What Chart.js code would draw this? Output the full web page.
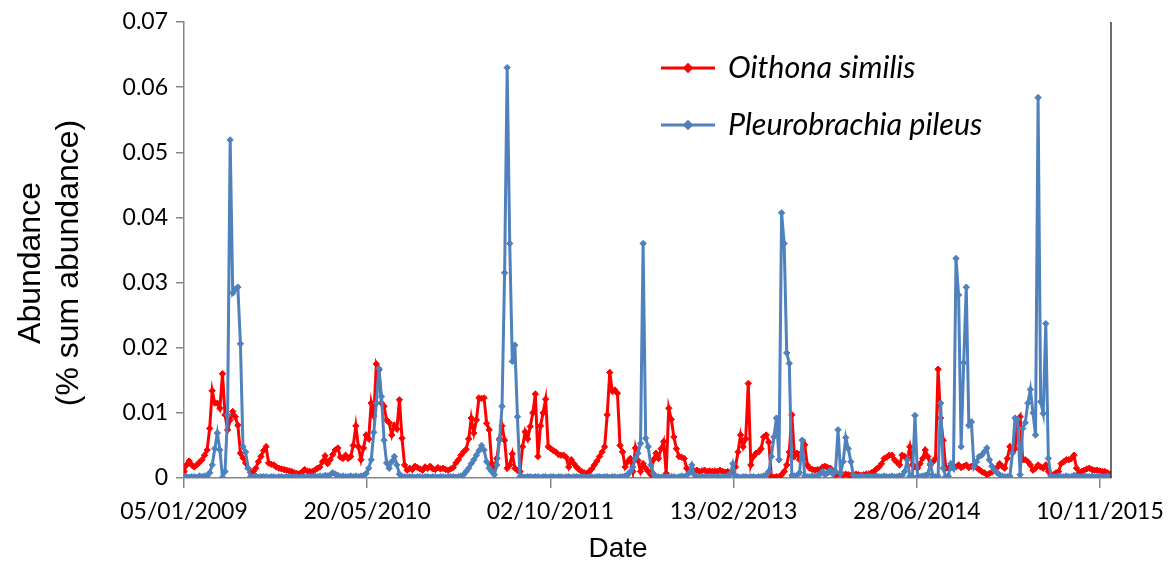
<!DOCTYPE html>
<html>
<head>
<meta charset="utf-8">
<title>Oithona similis and Pleurobrachia pileus abundance, 2009–2015</title>
<script src="https://cdn.jsdelivr.net/npm/chart.js@4.4.1/dist/chart.umd.min.js"></script>
<style>
  html, body { margin: 0; padding: 0; background: #ffffff; }
  #wrap { width: 1168px; height: 562px; position: relative; }
</style>
</head>
<body>
<div id="wrap"><canvas id="chart" width="1168" height="562"></canvas></div>
<script>
// Sampling dates, as days after 05/01/2009
const sampleDay = [
  0,7,14,21,28,35,42,49,56,63,70,77,84,91,98,105,112,119,126,133,
  140,147,154,161,168,175,182,189,196,203,210,217,224,231,238,245,252,259,266,273,
  280,287,294,301,308,315,322,329,336,343,350,357,364,371,378,385,392,399,406,413,
  420,427,434,441,448,455,462,469,476,483,490,497,504,511,518,525,532,539,546,553,
  560,567,574,581,588,595,602,609,616,623,630,637,644,651,658,665,672,679,686,693,
  700,707,714,721,728,735,742,749,756,763,770,777,784,791,798,805,812,819,826,833,
  840,847,854,861,868,875,882,889,896,903,910,917,924,931,938,945,952,959,966,973,
  980,987,994,1001,1008,1015,1022,1029,1036,1043,1050,1057,1064,1071,1078,1085,1092,1099,1106,1113,
  1120,1127,1134,1141,1148,1155,1162,1169,1176,1183,1190,1197,1204,1211,1218,1225,1232,1239,1246,1253,
  1260,1267,1274,1281,1288,1295,1302,1309,1316,1323,1330,1337,1344,1351,1358,1365,1372,1379,1386,1393,
  1400,1407,1414,1421,1428,1435,1442,1449,1456,1463,1470,1477,1484,1491,1498,1505,1512,1519,1526,1533,
  1540,1547,1554,1561,1568,1575,1582,1589,1596,1603,1610,1617,1624,1631,1638,1645,1652,1659,1666,1673,
  1680,1687,1694,1701,1708,1715,1722,1729,1736,1743,1750,1757,1764,1771,1778,1785,1792,1799,1806,1813,
  1820,1827,1834,1841,1848,1855,1862,1869,1876,1883,1890,1897,1904,1911,1918,1925,1932,1939,1946,1953,
  1960,1967,1974,1981,1988,1995,2002,2009,2016,2023,2030,2037,2044,2051,2058,2065,2072,2079,2086,2093,
  2100,2107,2114,2121,2128,2135,2142,2149,2156,2163,2170,2177,2184,2191,2198,2205,2212,2219,2226,2233,
  2240,2247,2254,2261,2268,2275,2282,2289,2296,2303,2310,2317,2324,2331,2338,2345,2352,2359,2366,2373,
  2380,2387,2394,2401,2408,2415,2422,2429,2436,2443,2450,2457,2464,2471,2478,2485,2492,2499,2506,2513,
  2520,2527
];

// Oithona similis, % of summed abundance
const oithonaSimilis = [
  .0010,.0020,.0026,.0020,.0017,.0020,.0024,.0028,.0035,.0043,.0076,.0134,.0115,.0115,.0107,.0160,.0097,.0074,.0089,.0102,
  .0094,.0081,.0038,.0031,.0023,.0015,.0008,.0010,.0015,.0025,.0033,.0042,.0048,.0023,.0021,.0020,.0017,.0015,.0014,.0013,
  .0012,.0011,.0010,.0008,.0007,.0006,.0009,.0013,.0011,.0010,.0010,.0012,.0015,.0017,.0025,.0034,.0022,.0028,.0036,.0043,
  .0046,.0032,.0030,.0035,.0030,.0033,.0050,.0080,.0048,.0028,.0046,.0066,.0060,.0115,.0095,.0175,.0166,.0115,.0110,.0089,
  .0085,.0066,.0081,.0075,.0120,.0061,.0020,.0012,.0015,.0013,.0018,.0016,.0014,.0012,.0017,.0015,.0018,.0014,.0013,.0016,
  .0014,.0015,.0013,.0012,.0014,.0016,.0023,.0028,.0035,.0040,.0044,.0060,.0092,.0069,.0089,.0123,.0122,.0123,.0084,.0074,
  .0022,.0015,.0030,.0060,.0080,.0058,.0015,.0020,.0037,.0015,.0012,.0010,.0048,.0071,.0060,.0079,.0100,.0129,.0033,.0080,
  .0100,.0121,.0048,.0045,.0042,.0040,.0036,.0035,.0035,.0032,.0017,.0028,.0022,.0017,.0013,.0010,.0008,.0007,.0010,.0014,
  .0020,.0026,.0033,.0040,.0048,.0097,.0162,.0133,.0135,.0130,.0050,.0040,.0017,.0025,.0030,.0010,.0046,.0027,.0010,.0022,
  .0015,.0010,.0005,.0028,.0038,.0030,.0045,.0056,.0007,.0107,.0090,.0063,.0045,.0033,.0032,.0030,.0015,.0010,.0012,.0011,
  .0012,.0010,.0011,.0012,.0010,.0011,.0010,.0011,.0010,.0012,.0010,.0009,.0010,.0008,.0010,.0017,.0040,.0066,.0048,.0060,
  .0145,.0020,.0033,.0038,.0040,.0045,.0063,.0066,.0055,.0002,.0001,.0002,.0002,.0005,.0010,.0020,.0040,.0097,.0033,.0038,
  .0028,.0040,.0051,.0020,.0015,.0013,.0012,.0013,.0012,.0017,.0018,.0016,.0015,.0010,.0005,.0006,.0006,.0005,.0006,.0005,
  .0004,.0005,.0006,.0005,.0004,.0005,.0006,.0006,.0008,.0010,.0014,.0017,.0022,.0030,.0032,.0035,.0035,.0028,.0024,.0020,
  .0035,.0033,.0030,.0048,.0020,.0017,.0015,.0022,.0030,.0043,.0033,.0020,.0025,.0030,.0167,.0092,.0058,.0015,.0015,.0016,
  .0015,.0017,.0020,.0016,.0018,.0020,.0016,.0018,.0019,.0016,.0013,.0010,.0008,.0005,.0007,.0009,.0012,.0016,.0022,.0018,
  .0015,.0030,.0048,.0040,.0045,.0086,.0094,.0028,.0028,.0025,.0020,.0012,.0015,.0020,.0017,.0015,.0020,.0010,.0006,.0005,
  .0008,.0010,.0022,.0025,.0028,.0028,.0030,.0035,.0015,.0008,.0010,.0012,.0014,.0015,.0013,.0012,.0012,.0011,.0010,.0010,
  .0008,.0006
];

// Pleurobrachia pileus, % of summed abundance
const pleurobrachiaPileus = [
  .0002,.0002,.0001,.0002,.0002,.0001,.0003,.0002,.0003,.0003,.0008,.0020,.0045,.0069,.0043,.0001,.0010,.0097,.0519,.0284,
  .0290,.0293,.0206,.0048,.0040,.0015,.0002,.0002,.0003,.0001,.0002,.0002,.0002,.0001,.0002,.0002,.0001,.0002,.0002,.0001,
  .0002,.0002,.0001,.0002,.0002,.0001,.0002,.0002,.0001,.0002,.0002,.0003,.0002,.0003,.0002,.0004,.0003,.0005,.0008,.0006,
  .0004,.0002,.0003,.0002,.0002,.0003,.0002,.0003,.0002,.0003,.0004,.0007,.0015,.0028,.0070,.0115,.0168,.0125,.0058,.0023,
  .0015,.0025,.0033,.0020,.0006,.0002,.0002,.0001,.0002,.0002,.0001,.0002,.0002,.0001,.0002,.0002,.0001,.0002,.0002,.0001,
  .0002,.0002,.0001,.0002,.0002,.0002,.0001,.0002,.0003,.0005,.0010,.0015,.0022,.0028,.0035,.0042,.0050,.0043,.0025,.0015,
  .0010,.0005,.0020,.0058,.0110,.0315,.0630,.0360,.0179,.0204,.0094,.0002,.0002,.0001,.0002,.0002,.0001,.0002,.0002,.0001,
  .0002,.0002,.0001,.0002,.0002,.0001,.0002,.0002,.0001,.0002,.0002,.0001,.0002,.0002,.0001,.0002,.0002,.0001,.0002,.0002,
  .0001,.0002,.0002,.0001,.0002,.0002,.0001,.0002,.0002,.0001,.0002,.0002,.0003,.0005,.0010,.0017,.0030,.0038,.0053,.0360,
  .0061,.0048,.0020,.0007,.0002,.0002,.0001,.0002,.0002,.0001,.0002,.0002,.0001,.0002,.0003,.0002,.0004,.0008,.0020,.0005,
  .0002,.0001,.0002,.0002,.0001,.0002,.0002,.0001,.0002,.0002,.0001,.0002,.0003,.0006,.0022,.0003,.0002,.0001,.0002,.0002,
  .0001,.0002,.0002,.0001,.0002,.0002,.0003,.0005,.0010,.0033,.0063,.0092,.0028,.0407,.0360,.0192,.0176,.0004,.0003,.0004,
  .0008,.0058,.0003,.0002,.0002,.0003,.0002,.0004,.0006,.0010,.0005,.0008,.0012,.0006,.0010,.0074,.0007,.0025,.0062,.0045,
  .0025,.0004,.0002,.0002,.0003,.0002,.0002,.0003,.0002,.0002,.0003,.0002,.0002,.0003,.0002,.0002,.0003,.0002,.0002,.0003,
  .0004,.0010,.0028,.0003,.0002,.0096,.0002,.0002,.0003,.0004,.0006,.0022,.0003,.0002,.0003,.0115,.0015,.0002,.0003,.0022,
  .0015,.0337,.0281,.0048,.0177,.0293,.0081,.0086,.0017,.0025,.0033,.0035,.0040,.0046,.0028,.0018,.0012,.0008,.0005,.0003,
  .0002,.0002,.0003,.0038,.0092,.0090,.0005,.0076,.0085,.0115,.0136,.0100,.0066,.0584,.0117,.0099,.0237,.0030,.0003,.0002,
  .0002,.0003,.0002,.0002,.0003,.0002,.0002,.0004,.0003,.0002,.0002,.0003,.0002,.0002,.0003,.0002,.0002,.0003,.0002,.0002,
  .0003,.0002
];

const seriesNames = ['Oithona similis', 'Pleurobrachia pileus'];
const seriesColors = ['#FF0000', '#4F81BD'];

// Date axis: a label every 500 days
const tickDays = [0, 500, 1000, 1500, 2000, 2500];
const tickLabels = ['05/01/2009', '20/05/2010', '02/10/2011', '13/02/2013', '28/06/2014', '10/11/2015'];
const axisEndDay = 2530;

const yTitleLines = ['Abundance', '(% sum abundance)'];
const xTitle = 'Date';

const AXIS_GREY = '#868686';
const TICK_FONT = { family: 'Lato, "Open Sans", sans-serif', size: 23 };
const X_TITLE_FONT = '28px "Liberation Sans", Arial, sans-serif';
const Y_TITLE_FONT = '32px "Liberation Sans", Arial, sans-serif';
const LEGEND_FONT = 'italic 30.5px Lato, "Open Sans", sans-serif';

function toPoints(values) {
  return values.map((v, i) => ({ x: sampleDay[i], y: v }));
}

// Frame line on the right, axis titles and the in-plot legend
const decorations = {
  id: 'decorations',
  afterDraw(chart) {
    const { ctx, chartArea: a } = chart;
    ctx.save();

    ctx.strokeStyle = '#3a3a3a';
    ctx.lineWidth = 1.5;
    ctx.beginPath();
    ctx.moveTo(a.right, a.top);
    ctx.lineTo(a.right, a.bottom);
    ctx.stroke();

    ctx.fillStyle = '#000000';
    ctx.font = X_TITLE_FONT;
    ctx.textAlign = 'center';
    ctx.textBaseline = 'middle';
    ctx.fillText(xTitle, 618, 549);

    ctx.font = Y_TITLE_FONT;
    ctx.textBaseline = 'alphabetic';
    yTitleLines.forEach((line, k) => {
      ctx.save();
      ctx.translate(40 + 38 * k, 263);
      ctx.rotate(-Math.PI / 2);
      ctx.fillText(line, 0, 0);
      ctx.restore();
    });

    seriesNames.forEach((name, k) => {
      const ds = chart.data.datasets.find(d => d.label === name);
      const y = 68 + 57 * k;
      ctx.strokeStyle = ds.borderColor;
      ctx.lineWidth = 3;
      ctx.beginPath();
      ctx.moveTo(661, y);
      ctx.lineTo(715, y);
      ctx.stroke();
      Chart.helpers.drawPoint(ctx, {
        pointStyle: 'rectRot', radius: 3.2, borderWidth: 1, rotation: 0
      }, 688, y);
      ctx.fillStyle = ds.borderColor;
      ctx.fill();
      ctx.fillStyle = '#000000';
      ctx.font = LEGEND_FONT;
      ctx.textAlign = 'left';
      ctx.textBaseline = 'middle';
      ctx.fillText(name, 728, y);
    });

    ctx.restore();
  }
};

function seriesDataset(name, values, color, order) {
  return {
    label: name,
    data: toPoints(values),
    borderColor: color,
    backgroundColor: color,
    borderWidth: 3,
    pointStyle: 'rectRot',
    pointRadius: 3.2,
    pointBorderWidth: 1,
    pointBackgroundColor: color,
    pointBorderColor: color,
    tension: 0,
    order: order
  };
}

function draw() {
  new Chart(document.getElementById('chart'), {
    type: 'line',
    data: {
      datasets: [
        seriesDataset(seriesNames[0], oithonaSimilis, seriesColors[0], 2),
        seriesDataset(seriesNames[1], pleurobrachiaPileus, seriesColors[1], 1)
      ]
    },
    options: {
      responsive: false,
      animation: false,
      layout: { padding: { left: 0, right: 57, top: 22, bottom: 0 } },
      plugins: {
        legend: { display: false },
        tooltip: { enabled: false }
      },
      scales: {
        x: {
          type: 'linear',
          min: 0,
          max: axisEndDay,
          afterBuildTicks: s => { s.ticks = tickDays.map(v => ({ value: v })); },
          afterFit: s => { s.height = 84; s.paddingLeft = 0; s.paddingRight = 0; },
          border: { display: true, color: AXIS_GREY, width: 1.5 },
          grid: { drawOnChartArea: false, drawTicks: true, tickLength: 10, color: AXIS_GREY, lineWidth: 1.5 },
          ticks: {
            autoSkip: false,
            maxRotation: 0,
            padding: 10,
            color: '#000000',
            font: TICK_FONT,
            callback: v => {
              const k = tickDays.indexOf(v);
              return k >= 0 ? tickLabels[k] : '';
            }
          }
        },
        y: {
          min: 0,
          max: 0.07,
          afterFit: s => { s.width = 184; s.paddingTop = 0; s.paddingBottom = 0; },
          border: { display: true, color: AXIS_GREY, width: 1.5 },
          grid: { drawOnChartArea: false, drawTicks: true, tickLength: 8, color: AXIS_GREY, lineWidth: 1.5 },
          ticks: {
            stepSize: 0.01,
            padding: 8,
            color: '#000000',
            font: TICK_FONT,
            callback: v => (Math.abs(v) < 1e-9 ? '0' : v.toFixed(2))
          }
        }
      }
    },
    plugins: [decorations]
  });
}

Promise.all([
  document.fonts.load('23px Lato'),
  document.fonts.load('italic 30.5px Lato'),
  document.fonts.load('28px "Liberation Sans"')
]).catch(() => {}).then(draw);
</script>
</body>
</html>
